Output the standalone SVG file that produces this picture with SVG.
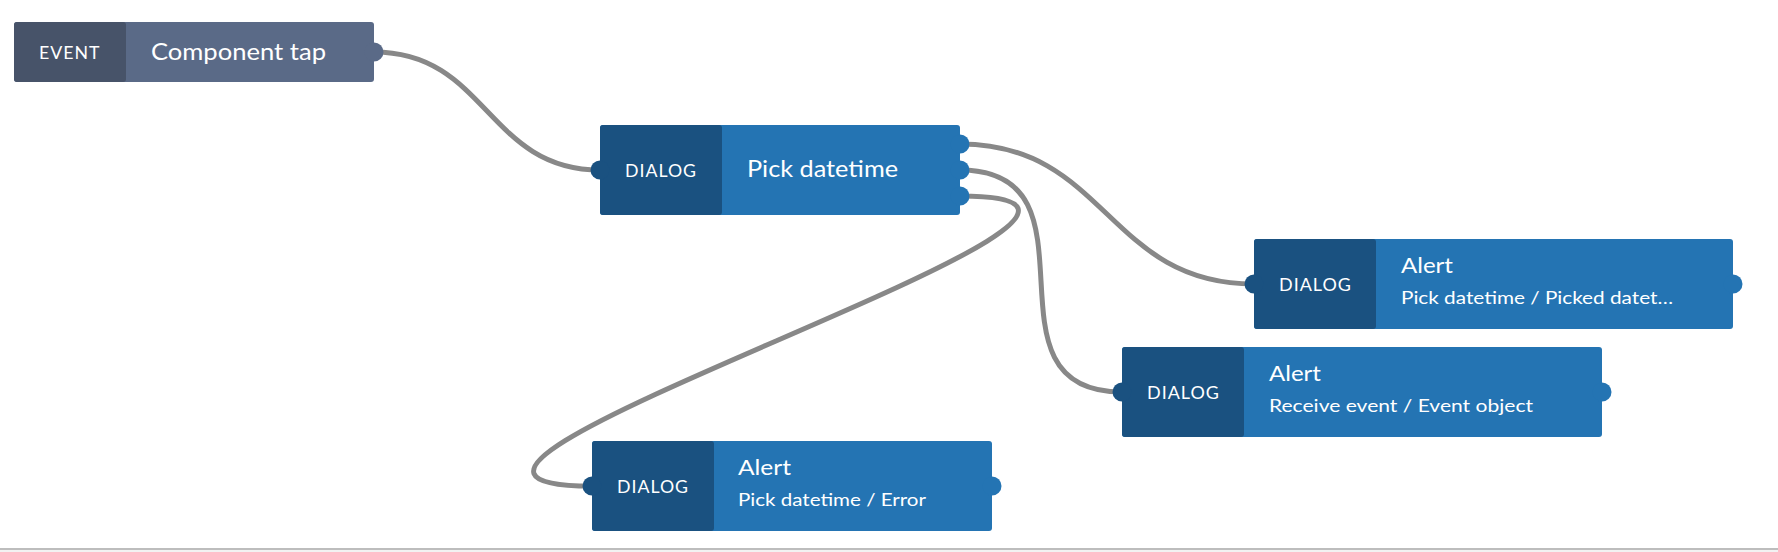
<svg xmlns="http://www.w3.org/2000/svg" width="1778" height="552" viewBox="0 0 1778 552">
<style>
.edge{fill:none;stroke:#888888;stroke-width:5}
.ev-body{fill:#5a6a87}
.ev-dark{fill:#475369}
.dl-body{fill:#2474b3}
.dl-dark{fill:#1a5180}
.kind{font-family:Lato,"Liberation Sans",sans-serif;font-size:18px;fill:#ffffff;letter-spacing:1px}
.title{font-family:Lato,"Liberation Sans",sans-serif;font-size:24px;fill:#ffffff}
.atitle{font-family:Lato,"Liberation Sans",sans-serif;font-size:22px;fill:#ffffff}
.sub{font-family:Lato,"Liberation Sans",sans-serif;font-size:18px;fill:#ffffff}
</style>
<rect x="0" y="0" width="1778" height="552" fill="#ffffff"/>
<rect x="0" y="548" width="1778" height="2" fill="#bdbdbd"/>
<rect x="0" y="550" width="1778" height="2" fill="#f2f2f2"/>
<g id="connectors">
<path class="edge" d="M374 52 C487 52 487 170 600 170"/>
<path class="edge" d="M960 144 C1107 144 1107 284 1254 284"/>
<path class="edge" d="M960 170 C1110 170 972 392 1122 392"/>
<path class="edge" d="M960 196 C1260 196 292 486 592 486"/>
</g>
<g id="node-event">
<rect class="ev-body" x="14" y="22" width="360" height="60" rx="3"/>
<rect class="ev-dark" x="14" y="22" width="112" height="60" rx="3"/>
<circle class="ev-body" cx="374" cy="52" r="9.5"/>
<text class="kind" x="39" y="58.5" textLength="61.5" lengthAdjust="spacingAndGlyphs">EVENT</text>
<text class="title" x="151" y="59.5" textLength="175" lengthAdjust="spacingAndGlyphs">Component tap</text>
</g>
<g id="node-pick">
<rect class="dl-body" x="600" y="125" width="360" height="90" rx="3"/>
<rect class="dl-dark" x="600" y="125" width="122" height="90" rx="3"/>
<circle class="dl-dark" cx="600" cy="170" r="9.5"/>
<circle class="dl-body" cx="960" cy="144" r="9.5"/>
<circle class="dl-body" cx="960" cy="170" r="9.5"/>
<circle class="dl-body" cx="960" cy="196" r="9.5"/>
<text class="kind" x="625" y="177" textLength="72" lengthAdjust="spacingAndGlyphs">DIALOG</text>
<text class="title" x="747" y="177" textLength="151" lengthAdjust="spacingAndGlyphs">Pick datetime</text>
</g>
<g id="node-alert-picked">
<rect class="dl-body" x="1254" y="239" width="479" height="90" rx="3"/>
<rect class="dl-dark" x="1254" y="239" width="122" height="90" rx="3"/>
<circle class="dl-dark" cx="1254" cy="284" r="9.5"/>
<circle class="dl-body" cx="1733" cy="284" r="9.5"/>
<text class="kind" x="1279" y="290.5" textLength="73" lengthAdjust="spacingAndGlyphs">DIALOG</text>
<text class="atitle" x="1401" y="273" textLength="52" lengthAdjust="spacingAndGlyphs">Alert</text>
<text class="sub" x="1401" y="304" textLength="272" lengthAdjust="spacingAndGlyphs">Pick datetime / Picked datet…</text>
</g>
<g id="node-alert-receive">
<rect class="dl-body" x="1122" y="347" width="480" height="90" rx="3"/>
<rect class="dl-dark" x="1122" y="347" width="122" height="90" rx="3"/>
<circle class="dl-dark" cx="1122" cy="392" r="9.5"/>
<circle class="dl-body" cx="1602" cy="392" r="9.5"/>
<text class="kind" x="1147" y="398.5" textLength="73" lengthAdjust="spacingAndGlyphs">DIALOG</text>
<text class="atitle" x="1269" y="381" textLength="52" lengthAdjust="spacingAndGlyphs">Alert</text>
<text class="sub" x="1269" y="412" textLength="264" lengthAdjust="spacingAndGlyphs">Receive event / Event object</text>
</g>
<g id="node-alert-error">
<rect class="dl-body" x="592" y="441" width="400" height="90" rx="3"/>
<rect class="dl-dark" x="592" y="441" width="122" height="90" rx="3"/>
<circle class="dl-dark" cx="592" cy="486" r="9.5"/>
<circle class="dl-body" cx="992" cy="486" r="9.5"/>
<text class="kind" x="617" y="492.5" textLength="72" lengthAdjust="spacingAndGlyphs">DIALOG</text>
<text class="atitle" x="738" y="475" textLength="53" lengthAdjust="spacingAndGlyphs">Alert</text>
<text class="sub" x="738" y="506" textLength="188" lengthAdjust="spacingAndGlyphs">Pick datetime / Error</text>
</g>
</svg>
